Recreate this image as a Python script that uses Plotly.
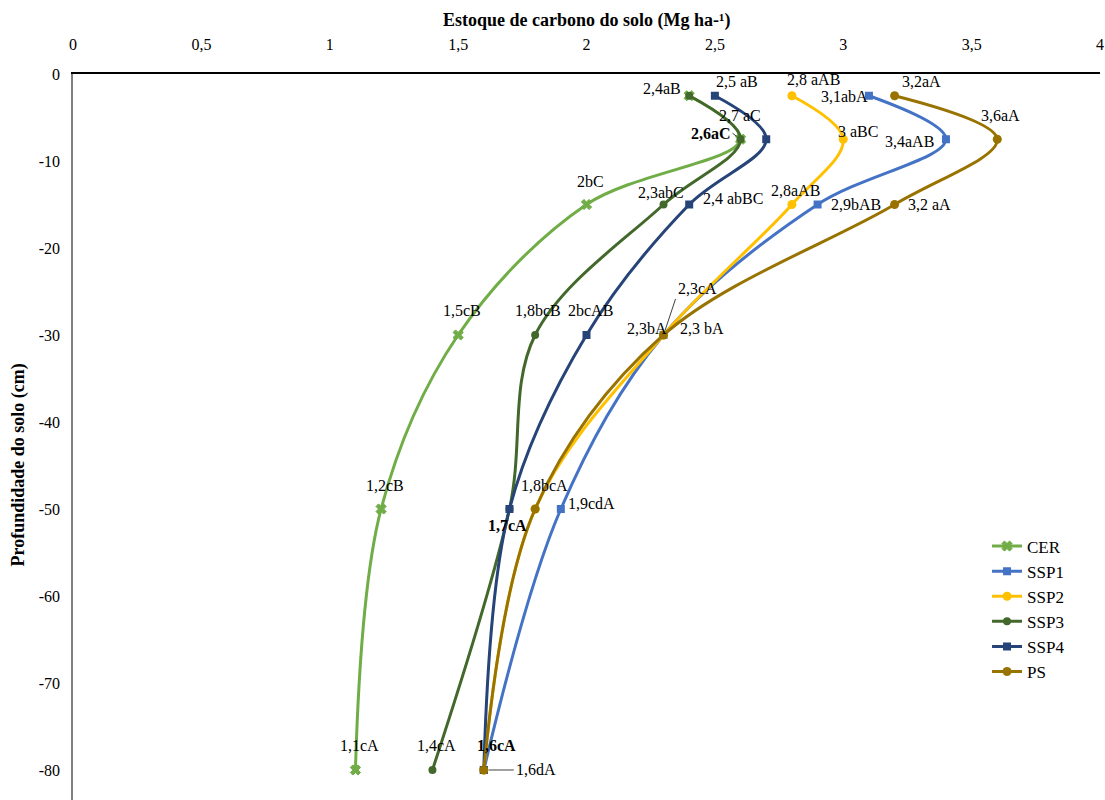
import plotly.graph_objects as go

# Soil depth (cm) for each sampled layer midpoint
depth = [-2.5, -7.5, -15, -30, -50, -80]

# Soil carbon stock (Mg ha-1) per land-use system
cer = [2.4, 2.6, 2.0, 1.5, 1.2, 1.1]
ssp1 = [3.1, 3.4, 2.9, 2.3, 1.9, 1.6]
ssp2 = [2.8, 3.0, 2.8, 2.3, 1.8, 1.6]
ssp3 = [2.4, 2.6, 2.3, 1.8, 1.7, 1.4]
ssp4 = [2.5, 2.7, 2.4, 2.0, 1.7, 1.6]
ps = [3.2, 3.6, 3.2, 2.3, 1.8, 1.6]

# Mean-comparison letters appended to each value (None = label not shown)
cer_letters = ["aB", "aC", "bC", "cB", "cB", "cA"]
ssp1_letters = ["abA", "aAB", "bAB", "bA", "cdA", "dA"]
ssp2_letters = [" aAB", " aBC", "aAB", "cA", "bcA", "cA"]
ssp3_letters = [None, None, "abC", "bcB", None, "cA"]
ssp4_letters = [" aB", " aC", " abBC", "bcAB", "cA", None]
ps_letters = ["aA", "aA", " aA", " bA", None, None]

x_ticks = [0, 0.5, 1, 1.5, 2, 2.5, 3, 3.5, 4]
x_tick_text = ["0", "0,5", "1", "1,5", "2", "2,5", "3", "3,5", "4"]
y_ticks = [0, -10, -20, -30, -40, -50, -60, -70, -80]
y_tick_text = ["0", "-10", "-20", "-30", "-40", "-50", "-60", "-70", "-80"]

FONT = "Liberation Serif"

series = [
    ("CER", cer, cer_letters, "#70AD47", "x", 9),
    ("SSP1", ssp1, ssp1_letters, "#4472C4", "square", 8),
    ("SSP2", ssp2, ssp2_letters, "#FFC000", "circle", 9),
    ("SSP3", ssp3, ssp3_letters, "#43682B", "circle", 8),
    ("SSP4", ssp4, ssp4_letters, "#264478", "square", 8),
    ("PS", ps, ps_letters, "#997300", "circle", 9),
]

# Pixel offsets of each label from its point (dx right, dy up)
label_offsets = {
    "CER": [(-27, 7), ("arrow", -8, -6, "right"), (4, 23), (4, 24), (4, 23), (4, 24)],
    "SSP1": [(-24, -1), (-36, -2), (38, 0), (-17, 6), (31, 5), ("arrow", 30, 0, "left")],
    "SSP2": [(22, 16), (15, 8), (4, 14), ("arrowup", 12, -36, "left"), (9, 23), (13, 24)],
    "SSP3": [None, None, (-3, 12), (3, 24), None, (4, 24)],
    "SSP4": [(22, 14), (-26, 24), (44, 6), (4, 24), (-2, -17), None],
    "PS": [(27, 14), (3, 24), (35, 0), (38, 6), None, None],
}
bold_labels = {("CER", 1), ("SSP4", 4), ("SSP2", 5)}


def fmt(v):
    return f"{v:g}".replace(".", ",")


fig = go.Figure()
annotations = []
for name, vals, letters, color, symbol, msize in series:
    marker = dict(symbol=symbol, size=msize, color=color)
    if symbol == "x":
        marker["line"] = dict(width=1, color=color)
    fig.add_trace(go.Scatter(
        x=vals, y=depth, name=name, mode="lines+markers",
        line=dict(color=color, width=3, shape="spline", smoothing=1.0),
        marker=marker,
    ))
    for i, (v, d, suf) in enumerate(zip(vals, depth, letters)):
        off = label_offsets[name][i]
        if suf is None or off is None:
            continue
        text = fmt(v) + suf
        if (name, i) in bold_labels:
            text = "<b>" + text + "</b>"
        base = dict(x=v, y=d, xref="x", yref="y", text=text,
                    font=dict(family=FONT, size=16, color="black"))
        if off[0] in ("arrow", "arrowup"):
            _, ax, ay, anchor = off
            base.update(showarrow=True, arrowhead=0, arrowwidth=1,
                        arrowcolor="#404040", ax=ax, ay=ay, xanchor=anchor,
                        yanchor="bottom" if off[0] == "arrowup" else "middle",
                        standoff=5)
        else:
            dx, dy = off
            base.update(showarrow=False, xshift=dx, yshift=dy)
        annotations.append(base)

# Axis titles
annotations.append(dict(
    text="<b>Estoque de carbono do solo (Mg ha-¹)</b>", xref="paper", yref="paper",
    x=0.5, y=1, yshift=54, showarrow=False, xanchor="center", yanchor="middle",
    font=dict(family=FONT, size=18, color="black")))
annotations.append(dict(
    text="<b>Profundidade do solo (cm)</b>", xref="paper", yref="y",
    x=0, xshift=-55, y=-45, showarrow=False, textangle=-90,
    xanchor="center", yanchor="middle",
    font=dict(family=FONT, size=18, color="black")))

fig.update_layout(
    width=1105, height=800,
    margin=dict(l=73, r=5, t=74, b=0),
    paper_bgcolor="white", plot_bgcolor="white",
    font=dict(family=FONT, size=16, color="black"),
    showlegend=True,
    legend=dict(x=0.89, y=0.374, xanchor="left", yanchor="top",
                font=dict(family=FONT, size=17), bgcolor="rgba(0,0,0,0)",
                tracegroupgap=0, itemwidth=30),
    annotations=annotations,
    xaxis=dict(range=[0, 4], side="top", tickvals=x_ticks, ticktext=x_tick_text,
               showgrid=False, zeroline=False, showline=True, linecolor="black",
               linewidth=1.5, ticks="outside", ticklen=16,
               tickcolor="rgba(0,0,0,0)", tickfont=dict(family=FONT, size=16)),
    yaxis=dict(range=[-83.45, 0], tickvals=y_ticks, ticktext=y_tick_text,
               showgrid=False, zeroline=False, showline=True, linecolor="#808080",
               linewidth=1.5, ticks="outside", ticklen=8,
               tickcolor="rgba(0,0,0,0)", tickfont=dict(family=FONT, size=16)),
)

fig.write_html("out.html")
